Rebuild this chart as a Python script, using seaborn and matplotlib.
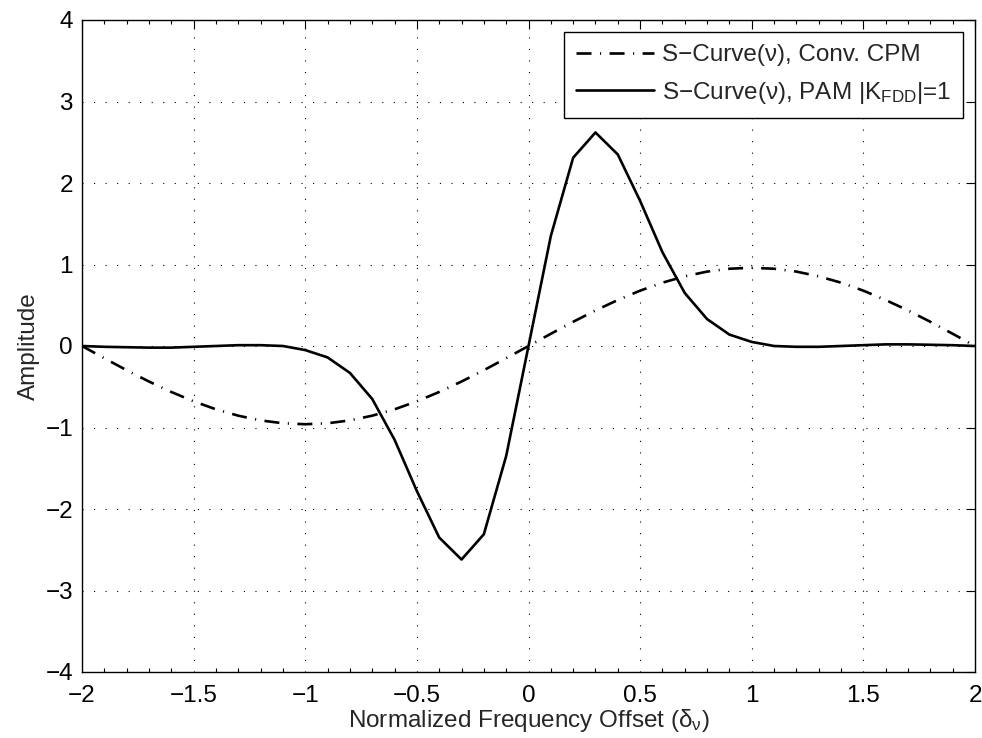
import numpy as np
import pandas as pd
import matplotlib
matplotlib.use("Agg")
import matplotlib.pyplot as plt
import seaborn as sns
from matplotlib.ticker import MultipleLocator

# ---- data ----
x_vals = [round(-2.0 + 0.1 * i, 1) for i in range(41)]

pam_pos = [0.0, 1.35, 2.31, 2.62, 2.35, 1.78, 1.15, 0.65, 0.33, 0.14, 0.05,
           0.0, -0.01, -0.01, 0.0, 0.01, 0.02, 0.02, 0.015, 0.01, 0.0]
pam_vals = [-v for v in pam_pos[:0:-1]] + pam_pos

cpm_pos = [0.0, 0.150, 0.297, 0.436, 0.564, 0.679, 0.777, 0.855, 0.913, 0.948, 0.96,
           0.948, 0.913, 0.855, 0.777, 0.679, 0.564, 0.436, 0.297, 0.150, 0.0]
cpm_vals = [-v for v in cpm_pos[:0:-1]] + cpm_pos

label_cpm = "S\u2212Curve(\u03bd), Conv. CPM"
label_pam = "S\u2212Curve(\u03bd), PAM |K$_{\\mathregular{FDD}}$|=1"

xticks = [-2, -1.5, -1, -0.5, 0, 0.5, 1, 1.5, 2]
xtick_labels = ["\u22122", "\u22121.5", "\u22121", "\u22120.5", "0", "0.5", "1", "1.5", "2"]
yticks = [-4, -3, -2, -1, 0, 1, 2, 3, 4]
ytick_labels = ["\u22124", "\u22123", "\u22122", "\u22121", "0", "1", "2", "3", "4"]

df = pd.DataFrame({"x": x_vals, "cpm": cpm_vals, "pam": pam_vals})

# ---- style ----
sns.set_style("white")
plt.rcParams["font.family"] = ["Liberation Sans", "DejaVu Sans"]
plt.rcParams["mathtext.fontset"] = "custom"
plt.rcParams["mathtext.rm"] = "Liberation Sans"
plt.rcParams["mathtext.it"] = "Liberation Sans"
plt.rcParams["mathtext.bf"] = "Liberation Sans"
plt.rcParams["lines.scale_dashes"] = False

FS = 17.5

fig = plt.figure(figsize=(9.82, 7.38), dpi=100)
ax = fig.add_axes([82 / 982, 1 - 672 / 738, (975 - 82) / 982, (672 - 20) / 738])

sns.lineplot(data=df, x="x", y="cpm", ax=ax, color="black", linewidth=1.9,
             label=label_cpm)
sns.lineplot(data=df, x="x", y="pam", ax=ax, color="black", linewidth=1.9,
             label=label_pam)
ax.lines[0].set_dashes([10.8, 6.1, 0.8, 6.1])

ax.set_xlim(-2, 2)
ax.set_ylim(-4, 4)
ax.set_xticks(xticks)
ax.set_xticklabels(xtick_labels)
ax.set_yticks(yticks)
ax.set_yticklabels(ytick_labels)
ax.xaxis.set_minor_locator(MultipleLocator(0.1))

ax.grid(True, which="major", color="black", linestyle=(0, (0.8, 7.5)), linewidth=0.8)
ax.tick_params(which="major", direction="in", length=6.5, width=0.8,
               top=True, right=True, labelsize=FS, colors="black")
ax.tick_params(axis="x", which="major", pad=9.5)
ax.tick_params(axis="y", which="major", pad=6.5)
ax.tick_params(which="minor", direction="in", length=3.2, width=0.8,
               top=True, bottom=True, colors="black")
for s in ax.spines.values():
    s.set_visible(True)
    s.set_color("black")
    s.set_linewidth(1.0)

ax.set_xlabel("Normalized Frequency Offset ($\\mathregular{\u03b4_{\u03bd}}$)", fontsize=FS, labelpad=0)
ax.set_ylabel("Amplitude", fontsize=FS, labelpad=4)

leg = ax.legend(loc="upper right", fontsize=FS, frameon=True, fancybox=False,
                edgecolor="black", framealpha=1, borderaxespad=0.5,
                handlelength=3.2, handletextpad=0.3, borderpad=0.5, labelspacing=0.55)
leg.get_frame().set_linewidth(1.0)

fig.savefig("out.png", dpi=100, facecolor="white")
